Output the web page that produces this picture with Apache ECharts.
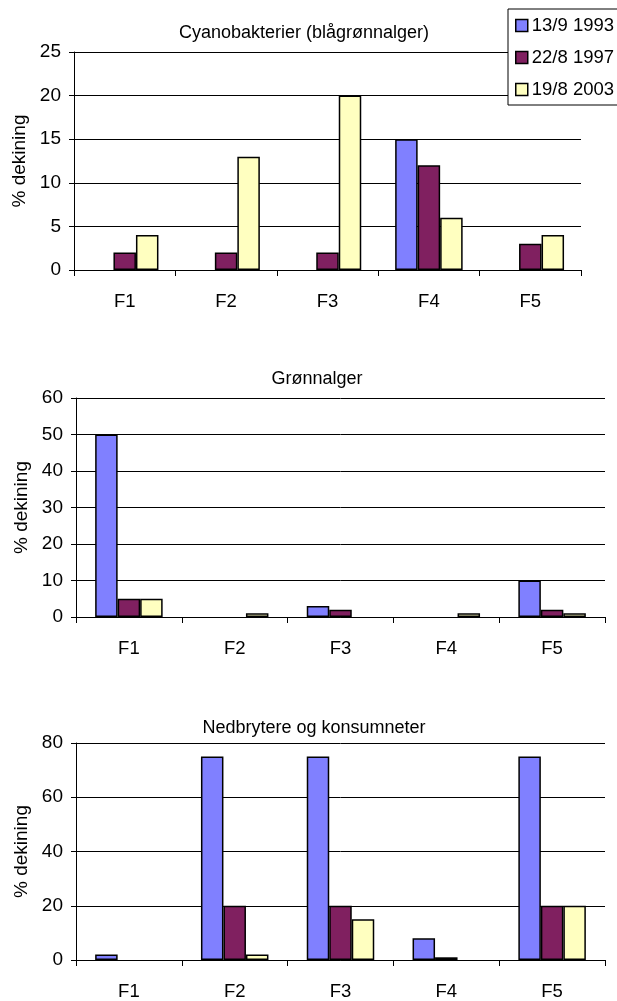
<!DOCTYPE html>
<html>
<head>
<meta charset="utf-8">
<script src="https://cdn.jsdelivr.net/npm/echarts@6/dist/echarts.min.js"></script>
<style>
html,body{margin:0;padding:0;background:#fff;}
#c{width:617px;height:1001px;}
</style>
</head>
<body>
<div id="c"></div>
<script>
const categories = ['F1', 'F2', 'F3', 'F4', 'F5'];
const seriesNames = ['13/9 1993', '22/8 1997', '19/8 2003'];
const chartTitles = ['Cyanobakterier (blågrønnalger)', 'Grønnalger', 'Nedbrytere og konsumneter'];
const yAxisName = '% dekining';

// Cyanobakterier
const cyano1993 = [0, 0, 0, 15, 0];
const cyano1997 = [2, 2, 2, 12, 3];
const cyano2003 = [4, 13, 20, 6, 4];
// Grønnalger
const gron1993 = [50, 0, 3, 0, 10];
const gron1997 = [5, 0, 2, 0, 2];
const gron2003 = [5, 1, 0, 1, 1];
// Nedbrytere og konsumneter
const ned1993 = [2, 75, 75, 8, 75];
const ned1997 = [0, 20, 20, 1, 20];
const ned2003 = [0, 2, 15, 0, 20];

const yMax = [25, 60, 80];
const yInterval = [5, 10, 20];

const colors = ['#8080FF', '#802060', '#FFFFC0'];
const FONT = '"Liberation Sans", Arial, sans-serif';

const panels = [
  [cyano1993, cyano1997, cyano2003],
  [gron1993, gron1997, gron2003],
  [ned1993, ned1997, ned2003]
];

const grids = [
  { left: 74, top: 52, width: 507, height: 218 },
  { left: 76, top: 398, width: 529, height: 219 },
  { left: 76, top: 743, width: 529, height: 221 }
];
const titlePos = [[304, 24], [317, 370], [314, 719]];

const option = {
  animation: false,
  backgroundColor: '#fff',
  textStyle: { fontFamily: FONT, color: '#000' },
  title: chartTitles.map((t, i) => ({
    text: t,
    left: titlePos[i][0],
    top: titlePos[i][1],
    textAlign: 'center',
    padding: 0,
    textStyle: { fontFamily: FONT, fontSize: 18, fontWeight: 'normal', color: '#000' }
  })),
  legend: {
    data: seriesNames,
    orient: 'vertical',
    left: 508,
    top: 9,
    padding: [6, 8, 5, 7],
    itemGap: 11,
    itemWidth: 12,
    itemHeight: 12,
    icon: 'rect',
    backgroundColor: '#fff',
    borderColor: '#000',
    borderWidth: 1,
    borderRadius: 0,
    z: 10,
    textStyle: { fontFamily: FONT, fontSize: 18.5, color: '#000', lineHeight: 21, padding: [0, 0, 0, -1] },
    itemStyle: { borderColor: '#000', borderWidth: 1.5 }
  },
  grid: grids.map(g => Object.assign({ containLabel: false }, g)),
  xAxis: grids.map((g, i) => ({
    type: 'category',
    gridIndex: i,
    data: categories,
    boundaryGap: true,
    axisLine: { show: true, lineStyle: { color: '#000', width: 1 } },
    axisTick: { show: true, interval: 0, length: 6, lineStyle: { color: '#000' } },
    axisLabel: { interval: 0, margin: 22, fontFamily: FONT, fontSize: 18.5, color: '#000' },
    splitLine: { show: false }
  })),
  yAxis: grids.map((g, i) => ({
    type: 'value',
    gridIndex: i,
    min: 0,
    max: yMax[i],
    interval: yInterval[i],
    name: yAxisName,
    nameLocation: 'middle',
    nameGap: 44,
    nameTextStyle: { fontFamily: FONT, fontSize: 19, color: '#000' },
    axisLine: { show: true, lineStyle: { color: '#000', width: 1 } },
    axisTick: { show: true, length: 5, lineStyle: { color: '#000' } },
    axisLabel: { margin: 13, fontFamily: FONT, fontSize: 19, color: '#000' },
    splitLine: { show: true, lineStyle: { color: '#000', width: 1 } }
  })),
  series: []
};

panels.forEach((panel, gi) => {
  panel.forEach((vals, si) => {
    option.series.push({
      type: 'bar',
      name: seriesNames[si],
      xAxisIndex: gi,
      yAxisIndex: gi,
      // zero values: no visible bar (no border), as in the original
      data: vals.map(v => v === 0 ? { value: v, itemStyle: { borderWidth: 0, opacity: 0 } } : v),
      barWidth: 22.5,
      barGap: '0%',
      itemStyle: { color: colors[si], borderColor: '#000', borderWidth: 1.5 }
    });
  });
});

const chart = echarts.init(document.getElementById('c'), null, { renderer: 'canvas' });
chart.setOption(option);
</script>
</body>
</html>
